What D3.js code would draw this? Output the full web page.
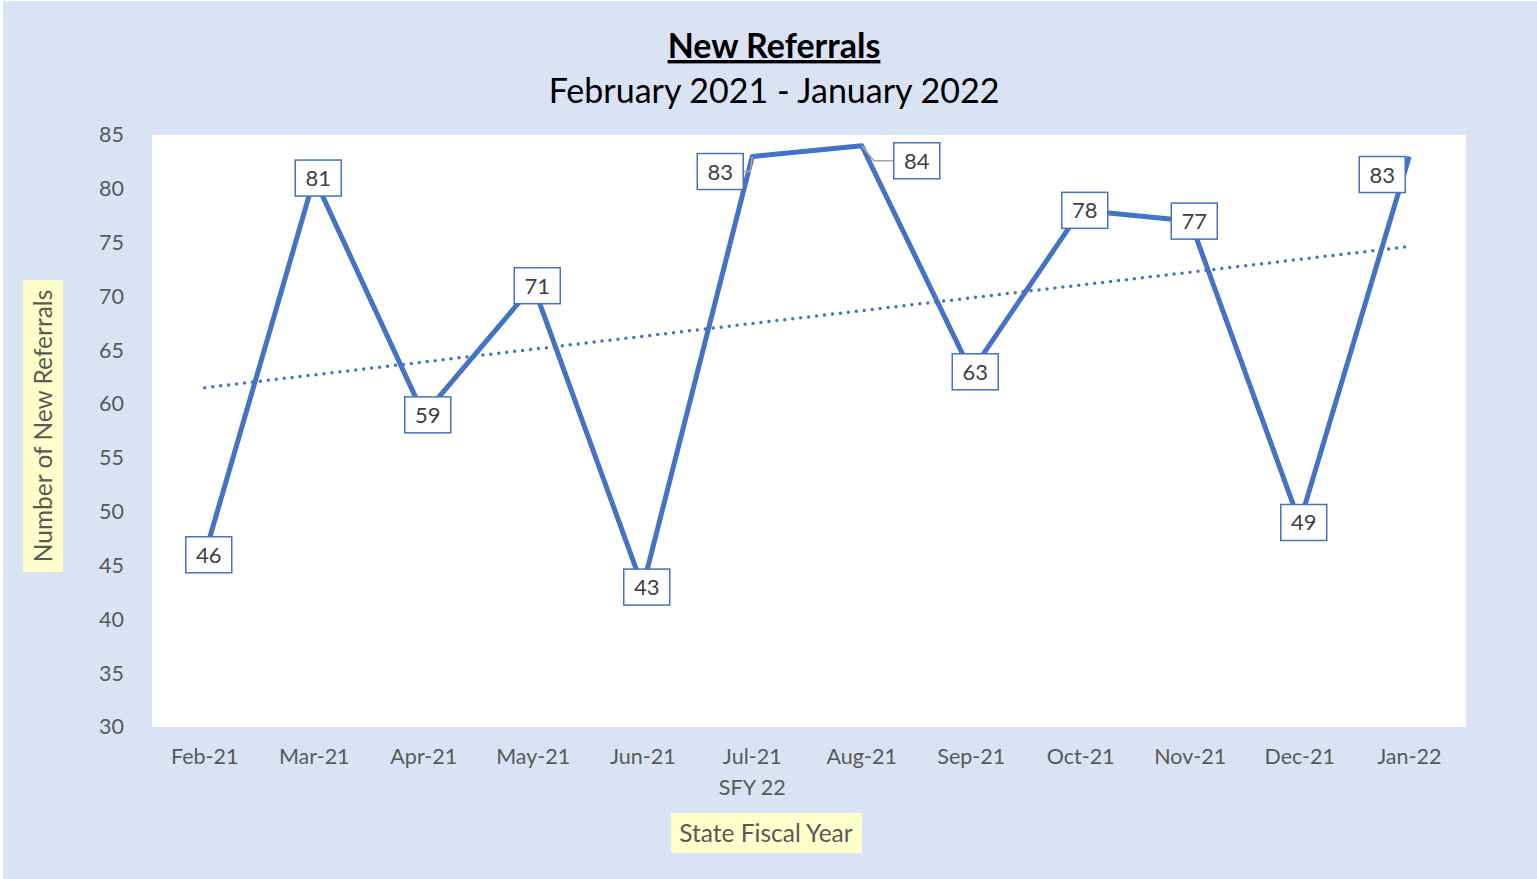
<!DOCTYPE html>
<html lang="en">
<head>
  <meta charset="UTF-8">
  <title>New Referrals</title>
  <script src="https://d3js.org/d3.v7.min.js"></script>
  <style>
    body { margin: 0; background: #fff; }
    text { font-family: Lato, "Noto Sans", sans-serif; }
  </style>
</head>
<body>
  <script>
    const months = ['Feb-21', 'Mar-21', 'Apr-21', 'May-21', 'Jun-21', 'Jul-21',
      'Aug-21', 'Sep-21', 'Oct-21', 'Nov-21', 'Dec-21', 'Jan-22'];
    const referrals = [46, 81, 59, 71, 43, 83, 84, 63, 78, 77, 49, 83];
    const yTicks = [30, 35, 40, 45, 50, 55, 60, 65, 70, 75, 80, 85];

    const w = 1537, h = 879;
    const plot = { left: 152, right: 1466, top: 135, bottom: 727 };
    const blue = '#4472c4';

    const svg = d3.select('body').append('svg')
      .attr('width', w)
      .attr('height', h);

    // chart background
    svg.append('rect')
      .attr('x', 3).attr('y', 1)
      .attr('width', w - 3).attr('height', h - 1)
      .attr('fill', '#dae3f3');

    svg.append('rect')
      .attr('x', plot.left).attr('y', plot.top)
      .attr('width', plot.right - plot.left)
      .attr('height', plot.bottom - plot.top)
      .attr('fill', '#fff');

    const x = d3.scaleBand()
      .domain(months)
      .range([plot.left - 2, plot.right - 2]);

    const y = d3.scaleLinear()
      .domain([30, 85])
      .range([plot.bottom, plot.top]);

    const cx = m => x(m) + x.bandwidth() / 2;

    // titles
    svg.append('text')
      .attr('x', 774).attr('y', 58)
      .attr('text-anchor', 'middle')
      .attr('font-size', 34).attr('font-weight', 'bold')
      .attr('text-decoration', 'underline')
      .attr('fill', '#000')
      .text('New Referrals');

    svg.append('text')
      .attr('x', 774).attr('y', 103)
      .attr('text-anchor', 'middle')
      .attr('font-size', 34)
      .attr('fill', '#000')
      .text('February 2021 - January 2022');

    // y axis
    const yAxis = svg.append('g')
      .attr('transform', `translate(${plot.left}, 0)`)
      .call(d3.axisLeft(y).tickValues(yTicks).tickSize(0).tickPadding(28));
    yAxis.select('.domain').remove();
    yAxis.selectAll('text')
      .attr('font-size', 21.5)
      .attr('fill', '#595959');

    // x axis
    const xAxis = svg.append('g')
      .attr('transform', `translate(0, ${plot.bottom})`)
      .call(d3.axisBottom(x).tickSize(0).tickPadding(22));
    xAxis.select('.domain').remove();
    xAxis.selectAll('text')
      .attr('font-size', 21.5)
      .attr('fill', '#595959');

    svg.append('text')
      .attr('x', cx('Jul-21')).attr('y', 795)
      .attr('text-anchor', 'middle')
      .attr('font-size', 21.5)
      .attr('fill', '#595959')
      .text('SFY 22');

    // axis titles with yellow boxes
    svg.append('rect')
      .attr('x', 671).attr('y', 813)
      .attr('width', 191).attr('height', 40)
      .attr('fill', '#ffffcc');
    svg.append('text')
      .attr('x', 766).attr('y', 842)
      .attr('text-anchor', 'middle')
      .attr('font-size', 24.5)
      .attr('fill', '#595959')
      .text('State Fiscal Year');

    svg.append('rect')
      .attr('x', 23).attr('y', 280)
      .attr('width', 40).attr('height', 292)
      .attr('fill', '#ffffcc');
    svg.append('text')
      .attr('transform', 'translate(52, 426) rotate(-90)')
      .attr('text-anchor', 'middle')
      .attr('font-size', 24.5)
      .attr('fill', '#595959')
      .text('Number of New Referrals');

    // linear trend line
    const n = referrals.length;
    const mx = (n - 1) / 2;
    const my = d3.mean(referrals);
    const slope = d3.sum(referrals, (v, i) => (i - mx) * (v - my)) /
      d3.sum(referrals, (v, i) => (i - mx) * (i - mx));
    const trend = i => my + slope * (i - mx);

    svg.append('line')
      .attr('x1', cx(months[0])).attr('y1', y(trend(0)))
      .attr('x2', cx(months[n - 1])).attr('y2', y(trend(n - 1)))
      .attr('stroke', blue)
      .attr('stroke-width', 3.5)
      .attr('stroke-linecap', 'round')
      .attr('stroke-dasharray', '0 8');

    // data line
    const line = d3.line()
      .x((d, i) => cx(months[i]))
      .y(d => y(d));

    svg.append('path')
      .datum(referrals)
      .attr('d', line)
      .attr('fill', 'none')
      .attr('stroke', blue)
      .attr('stroke-width', 5)
      .attr('stroke-linejoin', 'round');

    // data labels: offsets for the ones Excel moved
    const labelShift = { 'Jul-21': [-32, 15], 'Aug-21': [55, 15], 'Jan-22': [-27, 18] };
    const leaders = { 'Jul-21': true, 'Aug-21': true };

    const labels = svg.selectAll('g.lbl')
      .data(referrals)
      .enter()
      .append('g')
      .attr('class', 'lbl')
      .attr('transform', (d, i) => {
        const s = labelShift[months[i]] || [4, 0];
        return `translate(${cx(months[i]) + s[0]}, ${y(d) + s[1]})`;
      });

    // leader lines
    referrals.forEach((d, i) => {
      const m = months[i];
      if (!leaders[m]) return;
      const s = labelShift[m];
      const px = cx(m), py = y(d);
      const bx = px + s[0] + (s[0] < 0 ? 23 : -23), by = py + s[1];
      const kx = s[0] < 0 ? px - 2 : px + 12;
      svg.insert('polyline', 'g.lbl')
        .attr('points', `${px},${py} ${kx},${by} ${bx},${by}`)
        .attr('fill', 'none')
        .attr('stroke', '#a6a6a6')
        .attr('stroke-width', 1.5);
    });

    labels.append('rect')
      .attr('x', -23).attr('y', -18)
      .attr('width', 46).attr('height', 36)
      .attr('fill', '#fff')
      .attr('stroke', blue)
      .attr('stroke-width', 1.5);

    labels.append('text')
      .attr('text-anchor', 'middle')
      .attr('dy', 8)
      .attr('font-size', 22)
      .attr('fill', '#404040')
      .text(d => d);
  </script>
</body>
</html>
